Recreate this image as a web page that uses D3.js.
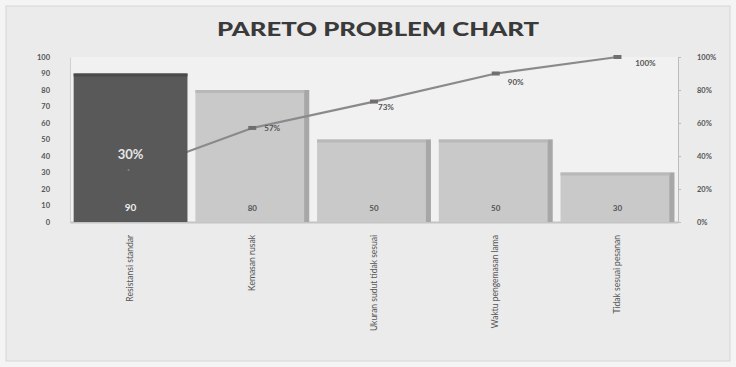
<!DOCTYPE html>
<html>
<head>
<meta charset="utf-8">
<script src="https://cdn.jsdelivr.net/npm/d3@7"></script>
<style>
  body { margin: 0; background: #fff; }
  text { font-family: Lato, "Open Sans", sans-serif; }
</style>
</head>
<body>
<div id="chart"></div>
<script>
// ... chart data
const categories = ['Resistansi standar', 'Kemasan rusak', 'Ukuran sudut tidak sesuai', 'Waktu pengemasan lama', 'Tidak sesuai pesanan'];
const counts = [90, 80, 50, 50, 30];
const cumPercent = [30, 57, 73, 90, 100];
const leftTicks = [0, 10, 20, 30, 40, 50, 60, 70, 80, 90, 100];
const rightTicks = [0, 20, 40, 60, 80, 100];

const W = 736, H = 367;
const margin = { top: 57, right: 58, bottom: 145, left: 70 };
const width = W - margin.left - margin.right;
const height = H - margin.top - margin.bottom;

const svg = d3.select('#chart').append('svg')
    .attr('width', W)
    .attr('height', H);

// ... background and frame
svg.append('rect').attr('width', W).attr('height', H).attr('fill', '#f4f4f4');
svg.append('rect')
    .attr('x', 6).attr('y', 6)
    .attr('width', W - 12).attr('height', H - 12)
    .attr('fill', '#ebebeb')
    .attr('stroke', '#d6d6d6');

svg.append('text')
    .attr('x', 378).attr('y', 36)
    .attr('text-anchor', 'middle')
    .attr('font-size', 19)
    .attr('font-weight', 900)
    .attr('fill', '#3a3a3a')
    .attr('textLength', 322)
    .attr('lengthAdjust', 'spacingAndGlyphs')
    .text('PARETO PROBLEM CHART');

const g = svg.append('g')
    .attr('transform', 'translate(' + margin.left + ',' + margin.top + ')');

g.append('rect')
    .attr('width', width).attr('height', height)
    .attr('fill', '#f1f1f1');

const x = d3.scaleBand()
    .domain(categories)
    .range([0, width])
    .paddingInner(0.065)
    .paddingOuter(0.03);

const y = d3.scaleLinear().domain([0, 100]).range([height, 0]);
const y2 = d3.scaleLinear().domain([0, 100]).range([height, 0]);

// ... axes
const leftAxis = g.append('g')
    .call(d3.axisLeft(y).tickValues(leftTicks).tickSize(0).tickPadding(20));
leftAxis.select('.domain').attr('stroke', '#d0d0d0');
leftAxis.selectAll('text')
    .attr('font-size', 7.5).attr('font-weight', 700).attr('fill', '#555');

const rightAxis = g.append('g')
    .attr('transform', 'translate(' + width + ',0)')
    .call(d3.axisRight(y2).tickValues(rightTicks).tickSize(3).tickPadding(16)
        .tickFormat(d => d + '%'));
rightAxis.select('.domain').attr('stroke', '#bcbcbc');
rightAxis.selectAll('line').attr('stroke', '#bcbcbc');
rightAxis.selectAll('text')
    .attr('font-size', 7.5).attr('font-weight', 700).attr('fill', '#555');

const bottomAxis = g.append('g')
    .attr('transform', 'translate(0,' + height + ')')
    .call(d3.axisBottom(x).tickSize(0).tickPadding(12));
bottomAxis.select('.domain').attr('stroke', '#c4c4c4').attr('stroke-width', 2);
bottomAxis.selectAll('text')
    .attr('font-size', 8.5)
    .attr('fill', '#555')
    .attr('text-anchor', 'end')
    .attr('dy', '0.32em')
    .attr('transform', 'rotate(-90)')
    .attr('x', -13)
    .attr('y', 0);

// ... light bars (with bevelled right edge)
const bars = g.append('g');
const light = categories.slice(1).map((c, i) => ({ c: c, v: counts[i + 1] }));

bars.selectAll('.bar').data(light).enter().append('rect')
    .attr('class', 'bar')
    .attr('x', d => x(d.c))
    .attr('y', d => y(d.v))
    .attr('width', x.bandwidth())
    .attr('height', d => height - y(d.v))
    .attr('fill', '#c9c9c9');
bars.selectAll('.edge').data(light).enter().append('rect')
    .attr('class', 'edge')
    .attr('x', d => x(d.c) + x.bandwidth() - 5)
    .attr('y', d => y(d.v))
    .attr('width', 5)
    .attr('height', d => height - y(d.v))
    .attr('fill', '#a7a7a7');
bars.selectAll('.topedge').data(light).enter().append('rect')
    .attr('class', 'topedge')
    .attr('x', d => x(d.c))
    .attr('y', d => y(d.v))
    .attr('width', x.bandwidth() - 5)
    .attr('height', 3)
    .attr('fill', '#b8b8b8');

// ... cumulative line
const pts = categories.map((c, i) => [x(c) + x.bandwidth() / 2, y2(cumPercent[i])]);
g.append('path')
    .attr('d', d3.line()(pts))
    .attr('fill', 'none')
    .attr('stroke', '#8a8a8a')
    .attr('stroke-width', 2.2);
g.selectAll('.mark').data(pts.slice(1)).enter().append('rect')
    .attr('class', 'mark')
    .attr('x', d => d[0] - 4).attr('y', d => d[1] - 2)
    .attr('width', 8).attr('height', 4)
    .attr('fill', '#6f6f6f');

// ... highlighted first bar drawn over the line
g.append('rect')
    .attr('x', x(categories[0]))
    .attr('y', y(counts[0]))
    .attr('width', x.bandwidth())
    .attr('height', height - y(counts[0]))
    .attr('fill', '#595959');
g.append('rect')
    .attr('x', x(categories[0]))
    .attr('y', y(counts[0]))
    .attr('width', x.bandwidth())
    .attr('height', 3)
    .attr('fill', '#4a4a4a');

g.append('text')
    .attr('x', pts[0][0] - 2).attr('y', pts[0][1])
    .attr('text-anchor', 'middle')
    .attr('font-size', 6).attr('fill', '#bbb')
    .text('*');

// ... count labels inside bars
g.selectAll('.cnt').data(counts).enter().append('text')
    .attr('class', 'cnt')
    .attr('x', (d, i) => x(categories[i]) + x.bandwidth() / 2)
    .attr('y', height - 11)
    .attr('text-anchor', 'middle')
    .attr('font-size', (d, i) => i === 0 ? 10 : 8)
    .attr('font-weight', 700)
    .attr('fill', (d, i) => i === 0 ? '#eee' : '#555')
    .text(d => d);

// ... percentage labels
const pOff = [[0, -14], [20, 3], [12, 8], [20, 11], [28, 9]];
g.selectAll('.pct').data(cumPercent).enter().append('text')
    .attr('class', 'pct')
    .attr('x', (d, i) => pts[i][0] + pOff[i][0])
    .attr('y', (d, i) => pts[i][1] + pOff[i][1])
    .attr('text-anchor', 'middle')
    .attr('font-size', (d, i) => i === 0 ? 13 : 8)
    .attr('font-weight', 700)
    .attr('fill', (d, i) => i === 0 ? '#e6e6e6' : '#555')
    .text(d => d + '%');
</script>
</body>
</html>
